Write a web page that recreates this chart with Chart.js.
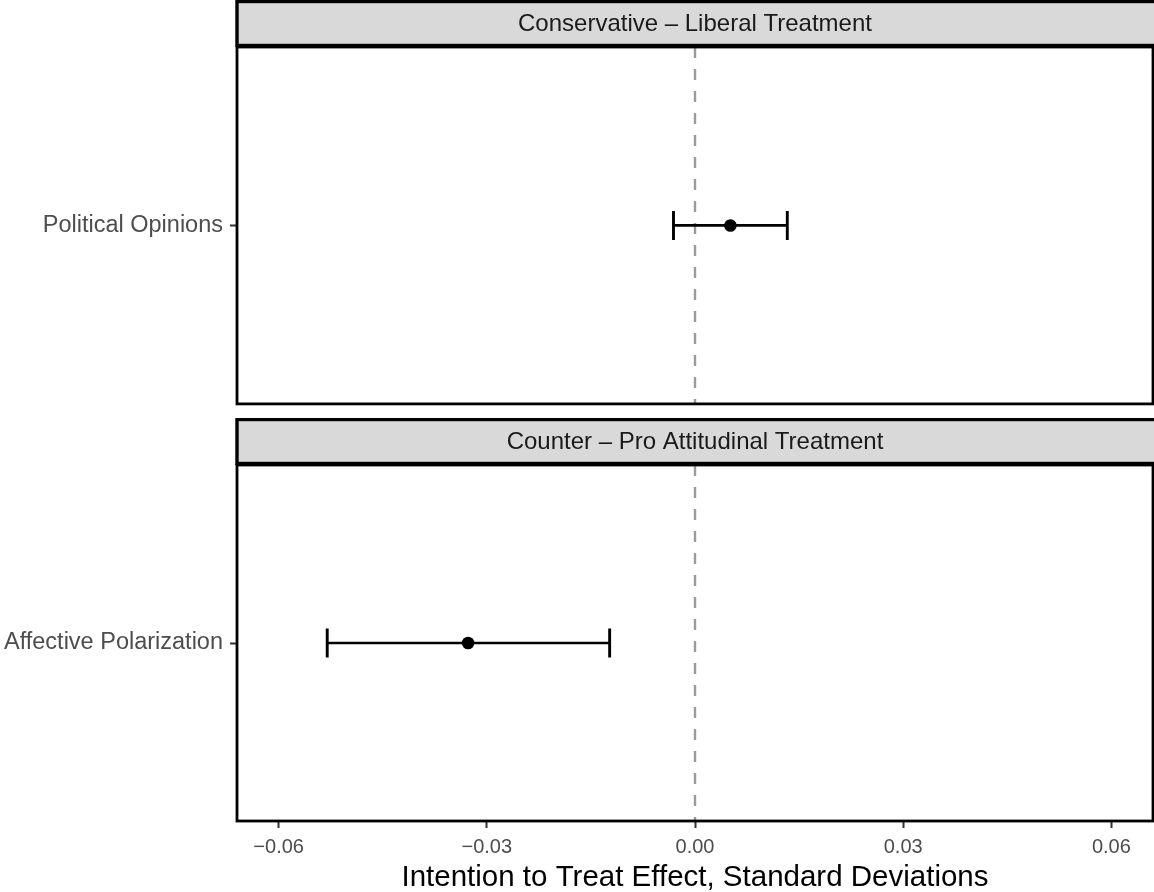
<!DOCTYPE html>
<html>
<head>
<meta charset="utf-8">
<script src="https://cdn.jsdelivr.net/npm/chart.js@4.4.1/dist/chart.umd.min.js"></script>
<style>
  html, body { margin: 0; padding: 0; background: #ffffff; }
  #wrap { position: relative; width: 1154px; height: 892px; overflow: hidden; }
  canvas { position: absolute; left: 0; }
</style>
</head>
<body>
<div id="wrap">
  <canvas id="panelTop" width="1154" height="425" style="top:0px"></canvas>
  <canvas id="panelBottom" width="1154" height="474" style="top:418px"></canvas>
</div>
<script>
// Facet strip titles and the outcome shown in each facet
const panelTitles = ['Conservative – Liberal Treatment', 'Counter – Pro Attitudinal Treatment'];
const outcomes = ['Political Opinions', 'Affective Polarization'];

// Point estimates and confidence bounds (standard deviations)
const estimates = [0.0051, -0.0327];
const lowerCI = [-0.0031, -0.0530];
const upperCI = [0.0133, -0.0123];

// Horizontal axis
const xTicks = [-0.06, -0.03, 0, 0.03, 0.06];
const xTickLabels = ['−0.06', '−0.03', '0.00', '0.03', '0.06'];
const xLimits = [-0.066, 0.066];
const xTitle = 'Intention to Treat Effect, Standard Deviations';

const FONT = "'Liberation Sans', Arial, Helvetica, sans-serif";
Chart.defaults.font.family = FONT;
Chart.defaults.devicePixelRatio = 1;

// Draws the grey facet strip, the zero reference line, the error bars and the panel frame
const facetPlugin = {
  id: 'facet',
  beforeDatasetsDraw(chart, args, opts) {
    const ctx = chart.ctx;
    const area = chart.chartArea;
    const xs = chart.scales.x;
    const ys = chart.scales.y;
    // dashed reference line at zero
    const x0 = Math.round(xs.getPixelForValue(0));
    ctx.save();
    ctx.strokeStyle = '#9a9a9a';
    ctx.lineWidth = 2.4;
    ctx.setLineDash([11, 11]);
    ctx.beginPath();
    ctx.moveTo(x0, area.top);
    ctx.lineTo(x0, area.bottom);
    ctx.stroke();
    ctx.restore();

    // error bar with end caps
    const i = opts.index;
    const y = ys.getPixelForValue(0);
    const xl = xs.getPixelForValue(lowerCI[i]);
    const xh = xs.getPixelForValue(upperCI[i]);
    ctx.save();
    ctx.strokeStyle = '#000000';
    ctx.lineCap = 'butt';
    ctx.lineWidth = 2.7;
    ctx.beginPath();
    ctx.moveTo(xl, y);
    ctx.lineTo(xh, y);
    ctx.stroke();
    ctx.lineWidth = 2.9;
    ctx.beginPath();
    ctx.moveTo(xl, y - 14.5);
    ctx.lineTo(xl, y + 14.5);
    ctx.moveTo(xh, y - 14.5);
    ctx.lineTo(xh, y + 14.5);
    ctx.stroke();
    ctx.restore();
  },
  afterDraw(chart, args, opts) {
    const ctx = chart.ctx;
    const area = chart.chartArea;
    ctx.save();
    // panel frame
    ctx.strokeStyle = '#000000';
    ctx.lineWidth = 2.8;
    ctx.strokeRect(area.left, area.top, area.right - area.left, area.bottom - area.top);
    // strip above the panel
    const sTop = 1.5, sBottom = area.top - 1.5;
    ctx.fillStyle = '#d9d9d9';
    ctx.fillRect(area.left, sTop, area.right - area.left + 4, sBottom - sTop);
    ctx.lineWidth = 3.4;
    ctx.strokeRect(area.left, sTop, area.right - area.left + 4, sBottom - sTop);
    ctx.fillStyle = '#1a1a1a';
    ctx.font = '24px ' + FONT;
    ctx.textAlign = 'center';
    ctx.textBaseline = 'middle';
    ctx.fillText(panelTitles[opts.index], (area.left + area.right) / 2, (sTop + sBottom) / 2 + 1);
    ctx.restore();
  }
};

function makePanel(canvasId, i, showX) {
  const ctx = document.getElementById(canvasId).getContext('2d');
  return new Chart(ctx, {
    type: 'scatter',
    data: {
      labels: [outcomes[i]],
      datasets: [{
        data: [{ x: estimates[i], y: outcomes[i] }],
        backgroundColor: '#000000',
        borderColor: '#000000',
        pointRadius: 6.3,
        pointHoverRadius: 6.3,
        borderWidth: 0
      }]
    },
    options: {
      responsive: false,
      animation: false,
      events: [],
      layout: { autoPadding: false, padding: { top: 47, right: 1, bottom: showX ? 0 : 2, left: 0 } },
      plugins: {
        legend: { display: false },
        tooltip: { enabled: false },
        facet: { index: i }
      },
      scales: {
        x: {
          type: 'linear',
          min: xLimits[0],
          max: xLimits[1],
          display: true,
          afterBuildTicks(scale) {
            scale.ticks = xTicks.map(v => ({ value: v }));
          },
          afterFit(scale) {
            scale.height = showX ? 71 : 0;
          },
          ticks: {
            display: showX,
            autoSkip: false,
            maxRotation: 0,
            padding: 7,
            color: '#4d4d4d',
            font: { size: 20 },
            callback(value) {
              const k = xTicks.findIndex(t => Math.abs(t - value) < 1e-9);
              return k >= 0 ? xTickLabels[k] : '';
            }
          },
          grid: {
            display: showX,
            drawOnChartArea: false,
            drawTicks: true,
            tickLength: 7,
            tickColor: '#333333',
            tickWidth: 2
          },
          border: { display: false },
          title: {
            display: showX,
            text: xTitle,
            color: '#000000',
            font: { size: 29.5 },
            padding: { top: 0, bottom: -4 }
          }
        },
        y: {
          type: 'category',
          labels: [outcomes[i]],
          offset: true,
          afterFit(scale) {
            scale.width = 237;
          },
          ticks: {
            padding: 7,
            color: '#4d4d4d',
            font: { size: 23.5 }
          },
          grid: {
            display: true,
            drawOnChartArea: false,
            drawTicks: true,
            tickLength: 7,
            tickColor: '#333333',
            tickWidth: 2
          },
          border: { display: false }
        }
      }
    },
    plugins: [facetPlugin]
  });
}

makePanel('panelTop', 0, false);
makePanel('panelBottom', 1, true);
</script>
</body>
</html>
